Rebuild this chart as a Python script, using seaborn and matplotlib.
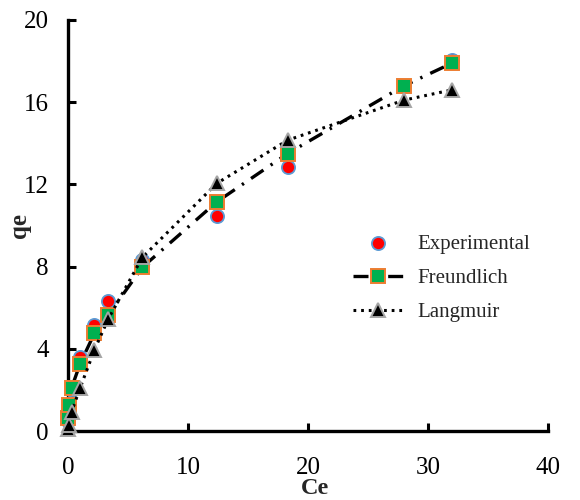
import matplotlib
matplotlib.use("Agg")
import matplotlib.pyplot as plt
import seaborn as sns
import pandas as pd

ce = [0.0, 0.08, 0.3, 1.0, 2.2, 3.35, 6.2, 12.4, 18.3, 28.0, 32.0]
qe_exp = [0.5, 1.2, 2.0, 3.6, 5.15, 6.35, 8.3, 10.45, 12.85, 16.8, 18.05]
qe_freundlich = [0.62, 1.27, 2.1, 3.26, 4.75, 5.64, 7.97, 11.15, 13.5, 16.8, 17.9]
qe_langmuir = [0.1, 0.3, 0.94, 2.08, 3.94, 5.45, 8.45, 12.05, 14.15, 16.1, 16.6]
x_ticks = [0, 10, 20, 30, 40]
y_ticks = [0, 4, 8, 12, 16, 20]

df = pd.DataFrame({"Ce": ce, "Experimental": qe_exp,
                   "Freundlich": qe_freundlich, "Langmuir": qe_langmuir})

sns.set_style("ticks")
plt.rcParams["font.family"] = ["Liberation Serif", "DejaVu Serif"]

fig = plt.figure(figsize=(5.8, 5.0), dpi=100)
ax = fig.add_axes([68 / 580, 1 - 431 / 500, 480 / 580, 411 / 500])

sns.scatterplot(data=df, x="Ce", y="Experimental", ax=ax, marker="o", s=90,
                color="#FF0000", edgecolor="#5B9BD5", linewidth=1.3,
                label="Experimental", zorder=3, clip_on=False)
sns.lineplot(data=df, x="Ce", y="Freundlich", ax=ax, sort=False, color="black",
             linewidth=2.4, linestyle=(0, (4.5, 2.6, 0.7, 2.6)),
             marker="s", markersize=10.5, markerfacecolor="#00B050",
             markeredgecolor="#ED7D31", markeredgewidth=1.4,
             label="Freundlich", zorder=4, clip_on=False)
sns.lineplot(data=df, x="Ce", y="Langmuir", ax=ax, sort=False, color="black",
             linewidth=2.2, linestyle=(0, (0.9, 1.6)),
             marker="^", markersize=10, markerfacecolor="black",
             markeredgecolor="#A5A5A5", markeredgewidth=1.4,
             label="Langmuir", zorder=5, clip_on=False)

ax.set_xlim(0, 40)
ax.set_ylim(0, 20)
ax.set_xticks(x_ticks)
ax.set_yticks(y_ticks)
ax.set_xticklabels([str(t) for t in x_ticks])
ax.set_yticklabels([str(t) for t in y_ticks])
for s in ["top", "right"]:
    ax.spines[s].set_visible(False)
for s in ["left", "bottom"]:
    ax.spines[s].set_linewidth(2.4)
    ax.spines[s].set_color("black")
ax.tick_params(axis="both", direction="in", length=6, width=2.2,
               labelsize=18, colors="black")
ax.tick_params(axis="x", pad=19)
ax.tick_params(axis="y", pad=14)

ax.set_xlabel("Ce", fontsize=17.5, fontweight="bold")
ax.set_ylabel("qe", fontsize=18, fontweight="bold")
ax.xaxis.set_label_coords((315 - 68) / 480, (431 - 488) / 411)
ax.yaxis.set_label_coords((20 - 68) / 480, 0.5)
ax.xaxis.label.set_va("center")
ax.yaxis.label.set_va("center")

handles, labels = ax.get_legend_handles_labels()
leg = ax.legend(handles, labels, loc="center left",
                bbox_to_anchor=(353 / 580, 1 - 278 / 500),
                bbox_transform=fig.transFigure, frameon=False,
                fontsize=15, handlelength=2.4, handletextpad=0.7,
                labelspacing=0.7, borderpad=0, borderaxespad=0,
                numpoints=1, scatterpoints=1)

fig.savefig("out.png", dpi=100)
